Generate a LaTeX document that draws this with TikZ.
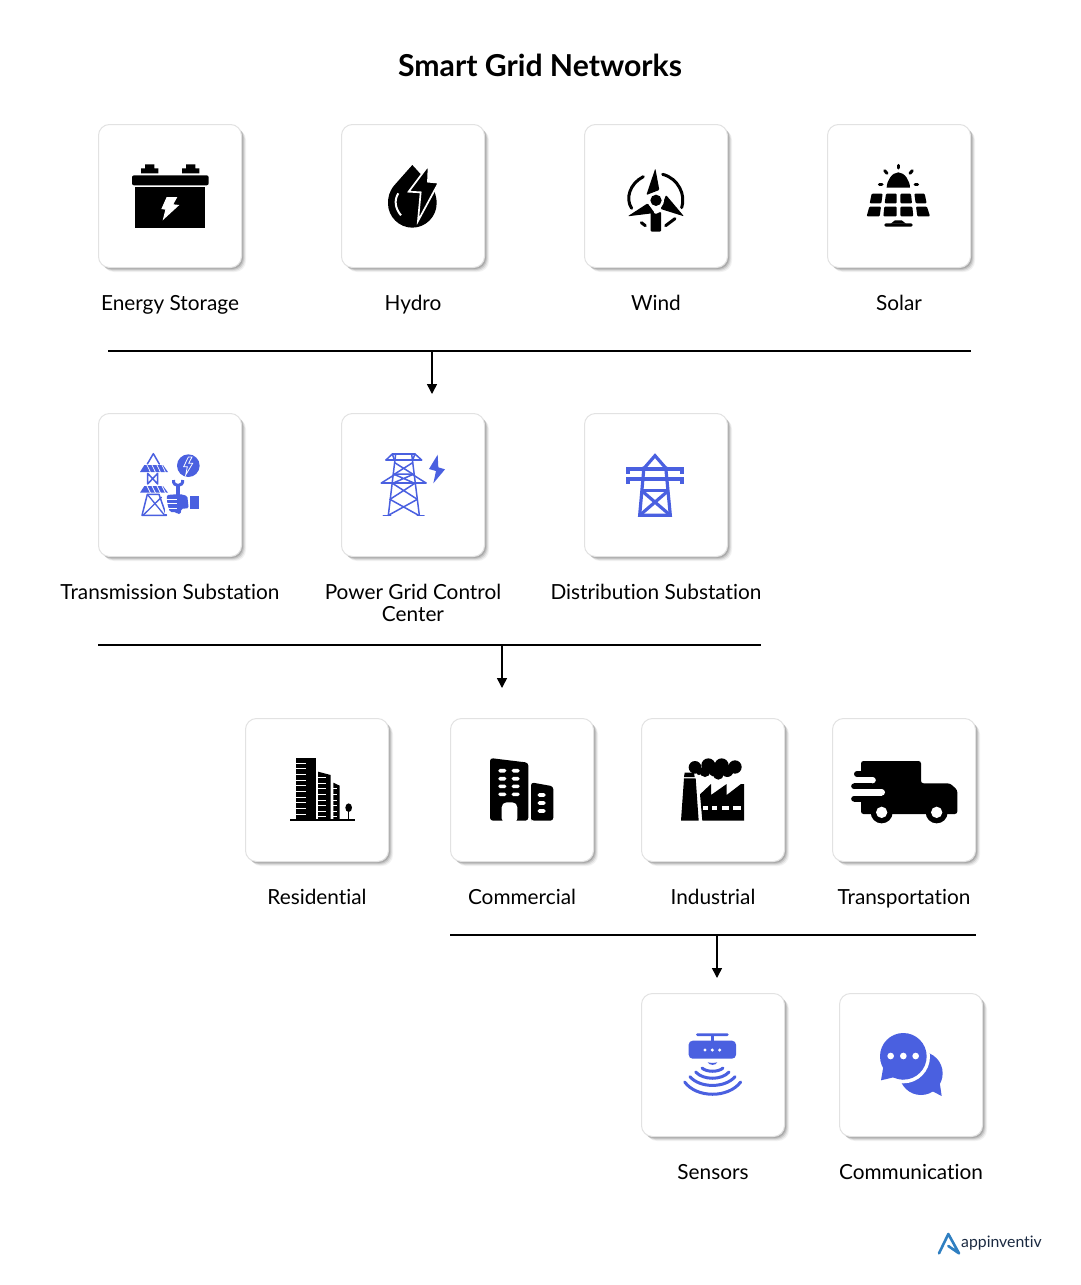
\documentclass[tikz,border=0pt]{standalone}
\usepackage{fontspec}
\setmainfont[Ligatures=CommonOff]{Lato}
\definecolor{iconblue}{HTML}{4A60E0}
\definecolor{cardedge}{HTML}{E2E2E2}
\definecolor{logoblue}{HTML}{2F7FC1}
\definecolor{logoink}{HTML}{1B2A41}
\newcommand{\card}[5]{%
  \foreach \s/\o in {4.5/.05,3.5/.08,2.5/.11,1.5/.14}{
    \fill[black,opacity=\o,rounded corners=11pt] (#2-71.5+\s,#3-71.5+\s) rectangle (#2+71.5+\s,#3+71.5+\s);
  }
  \node[cardbox] (#1) at (#2,#3) {};
  \node[cardlabel] (#1label) at (#2,#4) {#5};
}
\tikzset{
  cardbox/.style={draw=cardedge,fill=white,line width=1pt,rounded corners=11pt,minimum size=143pt,inner sep=0pt,outer sep=0pt},
  cardlabel/.style={font=\fontsize{20.8}{22}\selectfont,text=black,align=center,inner sep=0pt,anchor=base},
  titletext/.style={font=\fontsize{30.2}{32}\selectfont\bfseries,text=black,inner sep=0pt},
  barline/.style={line width=1.8pt,black},
  feedarrow/.style={line width=1.5pt,black,-{Stealth[length=10pt,width=10pt,inset=0pt]}},
  icon/.style 2 args={shift={(#1,#2)},x=0.33333pt,y=-0.33333pt},
  ink/.style={fill=black,draw=none},
  blueink/.style={fill=iconblue,draw=none},
  blueline/.style={draw=iconblue,line cap=round,line join=round},
  inkline/.style={draw=black,line width=3pt,line cap=round},
  gap/.style={fill=white,draw=none},
}
\usetikzlibrary{arrows.meta}
\begin{document}
\begin{tikzpicture}[x=1pt,y=-1pt]
\useasboundingbox (0,0) rectangle (1080,1285);
\fill[white] (0,0) rectangle (1080,1285);
\node[titletext] (title) at (540,65) {Smart Grid Networks};

\card{storage}{170}{196}{310}{Energy Storage}
\card{hydro}{413}{196}{310}{Hydro}
\card{wind}{656}{196}{310}{Wind}
\card{solar}{899}{196}{310}{Solar}
\card{trans}{170}{485}{599}{Transmission Substation}
\card{control}{413}{485}{621}{Power Grid Control\\Center}
\card{distrib}{656}{485}{599}{Distribution Substation}
\card{resid}{317}{790}{904}{Residential}
\card{comm}{522}{790}{904}{Commercial}
\card{indus}{713}{790}{904}{Industrial}
\card{transp}{904}{790}{904}{Transportation}
\card{sensors}{713}{1065}{1179}{Sensors}
\card{chat}{911}{1065}{1179}{Communication}

% connectors
\coordinate (barAl) at (108,351); \coordinate (barAr) at (971,351);
\coordinate (barAm) at (432,351); \coordinate (tipA) at (432,394);
\coordinate (barBl) at (98,645); \coordinate (barBr) at (761,645);
\coordinate (barBm) at (502,645); \coordinate (tipB) at (502,688);
\coordinate (barCl) at (450,935); \coordinate (barCr) at (976,935);
\coordinate (barCm) at (717,935); \coordinate (tipC) at (717,978);
\draw[barline] (barAl) -- (barAr);
\draw[barline] (barBl) -- (barBr);
\draw[barline] (barCl) -- (barCr);
\draw[feedarrow] (barAm) -- (tipA);
\draw[feedarrow] (barBm) -- (tipB);
\draw[feedarrow] (barCm) -- (tipC);

% battery + hydro
\begin{scope}[icon={90}{115}]
\fill[ink] (165,148)--(193,148)--(193,160)--(205,160)--(205,175)--(153,175)--(153,160)--(165,160)--cycle;
\fill[ink] (288,148)--(316,148)--(316,160)--(328,160)--(328,175)--(276,175)--(276,160)--(288,160)--cycle;
\fill[ink,rounded corners=2pt] (126,181) rectangle (356,211);
\fill[ink] (136,217) rectangle (345,338);
\fill[gap] (230,246)--(262,246)--(250,268)--(268,270)--(218,316)--(226,284)--(214,282)--cycle;
% drop
\fill[ink] (967,150) -- (912,212) .. controls (898,230) and (894,245) .. (894,265)
  .. controls (894,305) and (927,338) .. (967,338) .. controls (1007,338) and (1040,305) .. (1040,265)
  .. controls (1040,240) and (1030,220) .. (1020,208) -- cycle;
\fill[ink,draw=white,line width=1.7pt,line join=miter] (1016,150)--(1014,200)--(1046,203)--(984,318)--(992,232)--(956,230)--cycle;
\draw[white,line width=2pt] (925,235) .. controls (912,255) and (915,280) .. (933,301);
\end{scope}

% wind + solar
\begin{scope}[icon={580}{115}]
\draw[inkline] (190,185) .. controls (150,205) and (135,250) .. (155,280);
\draw[inkline] (248,178) .. controls (295,190) and (318,240) .. (305,278);
\draw[inkline] (184,323) -- (196,332);
\draw[inkline] (257,332) -- (285,311);
\fill[ink,rounded corners=1pt] (226,160)--(238,225)--(199,240)--cycle;
\fill[ink,rounded corners=1pt] (312,304)--(258,240)--(242,282)--cycle;
\fill[ink,rounded corners=1pt] (143,304)--(203,265)--(224,294)--cycle;
\fill[ink,rounded corners=1pt] (212,350)--(212,290)--(228,297)--(243,290)--(243,350)--cycle;
\fill[gap] (228,257) circle (24);
\fill[ink] (228,256) circle (17);
% solar
\fill[ink] (920,218) .. controls (920,198) and (936,172) .. (955,172) .. controls (974,172) and (990,198) .. (990,218) -- cycle;
\foreach \a/\b/\c/\d in {955/151/955/159,914/167/921/175,997/167/990/175,898/207/906/207,1005/207/1013/207}{
  \draw[inkline] (\a,\b) -- (\c,\d);
}
\fill[ink,rounded corners=1pt] (875,236)--(908,236)--(904,265)--(869,265)--cycle;
\fill[ink,rounded corners=1pt] (918,236)--(950,236)--(950,265)--(914,265)--cycle;
\fill[ink,rounded corners=1pt] (961,236)--(993,236)--(996,265)--(961,265)--cycle;
\fill[ink,rounded corners=1pt] (1003,236)--(1034,236)--(1040,265)--(1007,265)--cycle;
\fill[ink,rounded corners=1pt] (868,275)--(903,275)--(899,304)--(860,304)--cycle;
\fill[ink,rounded corners=1pt] (913,275)--(950,275)--(950,304)--(910,304)--cycle;
\fill[ink,rounded corners=1pt] (961,275)--(997,275)--(1000,304)--(961,304)--cycle;
\fill[ink,rounded corners=1pt] (1008,275)--(1041,275)--(1050,304)--(1012,304)--cycle;
\fill[ink] (945,316)--(965,316)--(978,326)--(932,326)--cycle;
\fill[ink,rounded corners=1.5pt] (913,325) rectangle (998,335);
\end{scope}

% transmission substation + control tower
\begin{scope}[icon={90}{410}]
\draw[blueline,line width=1.5pt] (172,162)--(190,131)--(208,162);
\fill[blueink] (163,165)--(219,165)--(234,186)--(150,186)--cycle;
\foreach \t in {0,1,2,3}{\draw[white,line width=.7pt] (170+15*\t,163)--(182+15*\t,188);}
\draw[blueline,line width=1.5pt] (173,190)--(173,222)--(203,190)--(203,222)--(173,190);
\fill[blueink] (163,228)--(219,228)--(234,248)--(150,248)--cycle;
\foreach \t in {0,1,2,3}{\draw[white,line width=.7pt] (170+15*\t,226)--(182+15*\t,250);}
\draw[blueline,line width=1.5pt] (156,316)--(172,253)--(207,253)--(229,316)--cycle;
\draw[blueline,line width=1.3pt] (172,253)--(224,316) (159,316)--(214,262);
\fill[blueink] (295,167) circle (34);
\draw[white,line width=.8pt,line join=miter] (295,141)--(281,170)--(292,170)--(287,195)--(308,160)--(296,160)--(306,141)--cycle;
% fist with wrench
\fill[gap] (224,249) rectangle (298,312);
\draw[draw=iconblue,line width=3pt] (251,210) .. controls (247,232) and (281,232) .. (278,210);
\fill[blueink] (259,226) rectangle (270,256);
\fill[blueink,rounded corners=1.5pt] (230,255)--(270,252)--(292,258)--(296,295)--(274,296)--(272,312)--(262,312)--(258,306)--(240,306)--(236,295)--(232,280)--cycle;
\foreach \yy in {268,281,294}{\draw[white,line width=.8pt] (232,\yy)--(262,\yy);}
\fill[blueink] (299,258) rectangle (328,297);
% lattice tower
\begin{scope}[blueline,line width=1.5pt]
\draw (907,132)--(975,132);
\draw (888,150)--(995,150);
\draw (888,150)--(907,132)--(913,150) (995,150)--(975,132)--(968,150);
\draw (874,219)--(1008,219);
\draw (874,219)--(917,192)--(965,192)--(1008,219);
\draw (917,132)--(895,316) (965,132)--(988,316);
\draw (880,316)--(902,316) (982,316)--(1002,316);
\draw (914,158)--(968,192) (968,158)--(914,192);
\draw (910,192)--(972,219) (972,192)--(910,219);
\draw (906,219)--(982,268) (976,219)--(900,268);
\draw (900,268)--(986,316) (982,268)--(895,316);
\end{scope}
\fill[blueink] (1043,134)--(1017,177)--(1038,183)--(1030,220)--(1065,178)--(1045,172)--cycle;
\end{scope}

% distribution tower
\begin{scope}[icon={600}{440}]
\begin{scope}[blueline,line width=3.2pt,line cap=butt,line join=miter]
\draw (132,85)--(165,47)--(198,85);
\draw (84,101)--(84,87)--(246,87)--(246,101);
\draw (84,131)--(84,117)--(246,117)--(246,131);
\draw (132,80)--(119,226)--(211,226)--(197,80);
\draw (125,152)--(205,152);
\draw (125,152)--(211,226) (205,152)--(119,226);
\end{scope}
\end{scope}

% residential + commercial
\begin{scope}[icon={240}{715}]
\fill[ink] (150,312) rectangle (345,318);
\fill[ink] (169,129) rectangle (228,313);
\foreach \yy in {143,160,177,194,211,228,245,262,280,298}{\fill[gap] (169,\yy) rectangle (198,\yy+3);}
\fill[ink] (234,170)--(272,180)--(272,313)--(234,313)--cycle;
\foreach \yy in {186,203,220,237,254,271,288,302}{\fill[gap] (234,\yy) rectangle (258,\yy+3);}
\fill[ink] (280,203)--(299,212)--(299,313)--(280,313)--cycle;
\foreach \yy in {220,237,254,271,288,302}{\fill[gap] (280,\yy) rectangle (291,\yy+3);}
\fill[ink] (326,278) ellipse (10 and 13);
\fill[ink] (324,285) rectangle (328,313);
% commercial
\fill[ink,rounded corners=3pt] (750,129)--(865,143)--(865,317)--(750,317)--cycle;
\fill[gap,rounded corners=5pt] (785,325)--(785,262)--(832,262)--(832,325)--cycle;
\fill[gap] (780,318) rectangle (838,326);
\fill[ink,rounded corners=3pt] (873,202)--(940,214)--(940,317)--(873,317)--(873,310)--cycle;
\foreach \xx in {787,827}{\foreach \yy in {167,191,214,238}{
  \fill[gap,rounded corners=1.6pt] (\xx-12,\yy-5.5) rectangle (\xx+12,\yy+5.5);}}
\foreach \yy in {240,264,288}{\fill[gap,rounded corners=1.6pt] (893,\yy-5.5) rectangle (917,\yy+5.5);}
\end{scope}

% factory + truck
\begin{scope}[icon={640}{715}]
\fill[ink] (134,173)--(162,173)--(164,186)--(132,186)--cycle;
\fill[ink] (132,190)--(167,190)--(176,317)--(123,317)--cycle;
\foreach \cx/\cy/\r in {165/157/19,205/151/21,245/151/21,285/156/20,225/165/20,262/168/18,235/178/16,195/170/16,177/172/8}{\fill[ink] (\cx,\cy) circle (\r);}
\fill[ink] (187,317)--(180,238)--(213,207)--(213,240)--(260,207)--(260,240)--(303,207)--(312,207)--(312,317)--cycle;
\foreach \a/\b in {190/205,215/232,245/268,278/302}{\fill[gap] (\a,274) rectangle (\b,284);}
% truck
\fill[ink,rounded corners=2.5pt] (663,138)--(843,138)--(843,205)--(930,205)--(952,225)--(952,297)--(663,297)--cycle;
\fill[gap] (860,140)--(872,140) .. controls (888,145) and (905,165) .. (912,185) -- (860,185) -- cycle;
\fill[gap] (630,186) rectangle (698,205);
\fill[gap] (698,195.5) circle (9.5);
\fill[gap] (630,222) rectangle (725,242);
\fill[gap] (725,232) circle (10);
\fill[gap] (630,260) rectangle (663,290);
\fill[ink] (650,168) rectangle (680,186);
\fill[ink] (651,177) circle (9);
\fill[ink] (642,205) rectangle (680,222);
\fill[ink] (642,213.5) circle (8.5);
\fill[ink] (642,243) rectangle (680,260);
\fill[ink] (642,251.5) circle (8.5);
\fill[ink] (725,292) circle (33);
\fill[ink] (890,292) circle (33);
\fill[gap] (725,292) circle (17);
\fill[gap] (890,292) circle (17);
\end{scope}

% sensor + chat
\begin{scope}[icon={640}{1000}]
\fill[blueink,rounded corners=1.3pt] (168,100) rectangle (266,108);
\fill[blueink] (212,106) rectangle (222,124);
\fill[blueink,rounded corners=4pt] (146,122) rectangle (288,176);
\foreach \xx in {195,217,239}{\fill[gap] (\xx,150) circle (5);}
\fill[blueink] (203,187) .. controls (210,189) and (225,189) .. (232,187) .. controls (228,197) and (208,197) .. (203,187) -- cycle;
\draw[blueline,line width=3pt] (186,204) .. controls (200,217) and (235,217) .. (249,204);
\draw[blueline,line width=3pt] (167,216) .. controls (190,241) and (245,241) .. (267,216);
\draw[blueline,line width=3pt] (150,230) .. controls (180,265) and (255,265) .. (285,230);
\draw[blueline,line width=3pt] (134,246) .. controls (170,295) and (265,295) .. (302,246);
% chat
\fill[blueink] (843,220) circle (65);
\fill[blueink] (870,270)--(905,288)--(898,240)--cycle;
\fill[gap] (790,170) circle (80);
\fill[gap] (715,245)--(735,190)--(790,240)--cycle;
\fill[blueink] (790,169) circle (70);
\fill[blueink] (730,200)--(723,241)--(760,232)--(790,239)--cycle;
\foreach \xx in {752,790,827}{\fill[gap] (\xx,168) circle (10);}
\end{scope}

% logo
\begin{scope}[icon={920}{1220}]
\draw[draw=logoblue,line width=2.6pt,line join=round,line cap=round] (57,100)--(85,42)--(117,100)--(85,78);
\end{scope}
\node[inner sep=0pt,anchor=base west,text=logoink,font=\fontsize{15.8}{16}\selectfont] (logo) at (961,1247.5) {appinventiv};
\end{tikzpicture}
\end{document}
